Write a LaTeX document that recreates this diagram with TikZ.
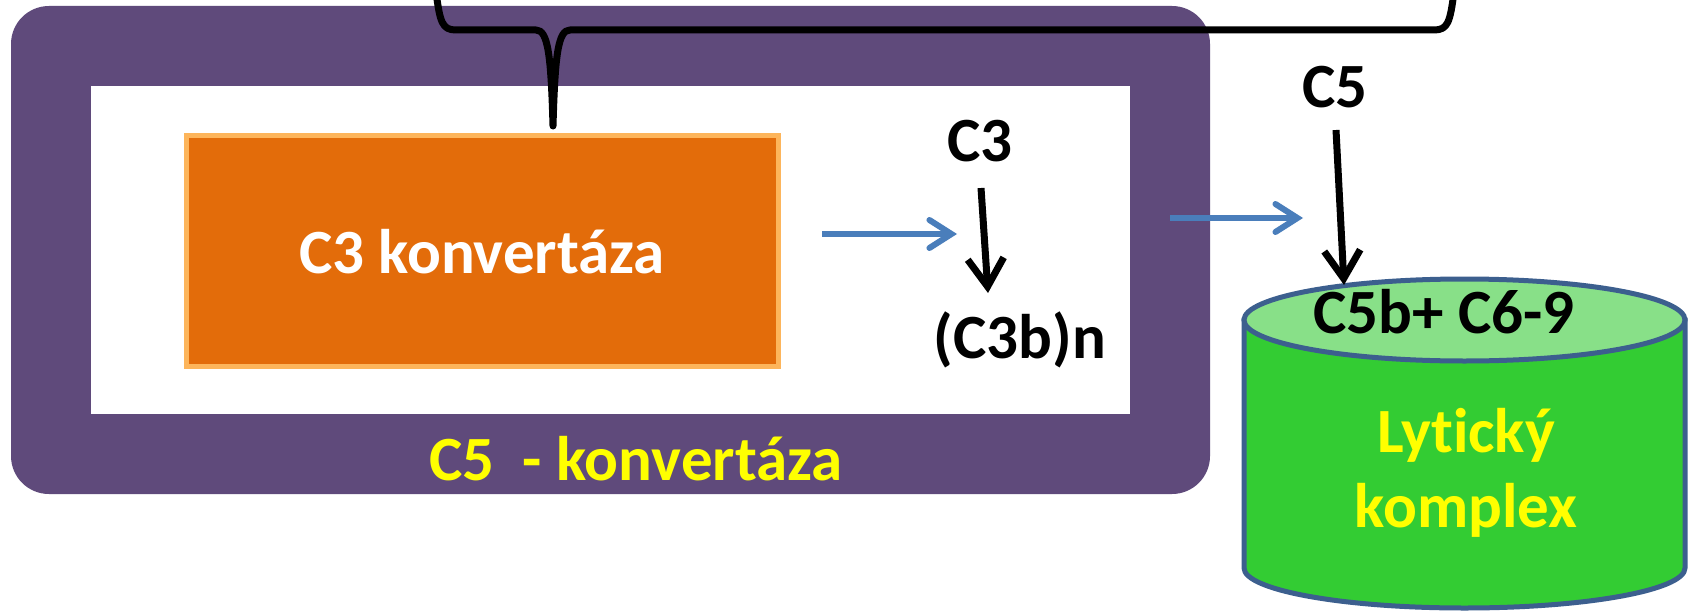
\documentclass[tikz,border=0pt]{standalone}
\usepackage{fontspec}
\setmainfont{Carlito}[Ligatures=NoCommon]
\usetikzlibrary{arrows.meta}
\definecolor{purp}{HTML}{5F4A7B}
\definecolor{orfill}{HTML}{E36C0A}
\definecolor{orline}{HTML}{FDB55B}
\definecolor{blarrow}{HTML}{4A7EBB}
\definecolor{cylbody}{HTML}{33CC33}
\definecolor{cyltop}{HTML}{88E088}
\definecolor{cylline}{HTML}{3C5F8E}
\definecolor{yel}{HTML}{FFFF00}
\tikzset{
  lbl/.style={font=\fontsize{31.5}{36}\selectfont\bfseries, inner sep=0pt, anchor=base},
  bluearrow/.style={draw=blarrow, line width=3pt, -{Straight Barb[length=11pt,width=14pt,line cap=round]}},
  blackarrow/.style={draw=black, line width=3.5pt, -{Straight Barb[length=14pt,width=18pt]}},
}
\begin{document}
\begin{tikzpicture}[x=0.5pt,y=-0.5pt]
\clip (0,0) rectangle (1695,610);
\fill[white] (0,0) rectangle (1695,610);
% outer purple box
\fill[purp, rounded corners=19pt] (11,6) rectangle (1210,494);
\fill[white] (91,86) rectangle (1130,414);
% orange box
\node[draw=orline, fill=orfill, line width=2.5pt, minimum width=296pt, minimum height=115.5pt, inner sep=0pt] (conv3) at (482,250.5) {};
\node[lbl, text=white] (c3konv) at (482,273) {C3 konvertáza};
\node[lbl, text=yel] (c5konv) at (636,480) {C5\ \ - konvertáza};
% brace
\draw[line width=3.5pt, line join=round, line cap=round]
  (436,-8) .. controls (440,22) and (442,30) .. (456,30) -- (536,30)
  .. controls (548,30) and (551,55) .. (553,126)
  .. controls (555,55) and (558,30) .. (570,30) -- (1434,30)
  .. controls (1448,30) and (1450,22) .. (1454,-8);
% C3 -> (C3b)n
\node[lbl] (c3) at (980,162) {C3};
\node[lbl] (c3bn) at (1020,358) {(C3b)n};
\coordinate (a1s) at (981,188);
\coordinate (a1e) at (988,293);
\draw[blackarrow] (a1s) -- (a1e);
\coordinate (b1s) at (822,234);
\coordinate (b1e) at (957,234);
\draw[bluearrow] (b1s) -- (b1e);
\coordinate (b2s) at (1170,218);
\coordinate (b2e) at (1303,218);
\draw[bluearrow] (b2s) -- (b2e);
% cylinder
\draw[fill=cylbody, draw=cylline, line width=2.5pt]
  (1244,320) -- (1244,568) arc[start angle=180, end angle=0, x radius=220.5, y radius=40]
  -- (1685,320) -- cycle;
\draw[fill=cyltop, draw=cylline, line width=2.5pt] (1464.5,320) ellipse[x radius=220.5, y radius=41];
\node[lbl] (c5bc) at (1444,333) {C5b+ C6-9};
\node[lbl, text=yel] (lyt) at (1466,452) {Lytický};
\node[lbl, text=yel] (kom) at (1466,527) {komplex};
% C5 arrow
\node[lbl] (c5) at (1335,107) {C5};
\coordinate (a2s) at (1336,130);
\coordinate (a2e) at (1344,285);
\draw[blackarrow] (a2s) -- (a2e);
\end{tikzpicture}
\end{document}
